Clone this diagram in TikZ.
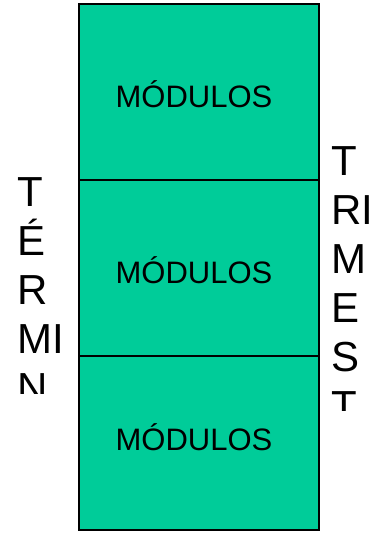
\documentclass[tikz,border=0pt]{standalone}
\usepackage{fontspec}
\setmainfont{Liberation Sans}
\usepackage{tikz}
\definecolor{modgreen}{RGB}{0,204,153}
\tikzset{
  modtext/.style={font=\fontsize{31}{36}\selectfont, inner sep=0pt, anchor=base},
  sidetext/.style={font=\fontsize{42}{49}\selectfont, align=left, inner sep=0pt, anchor=north west},
}

\begin{document}
\begin{tikzpicture}[x=1pt,y=-1pt]
\useasboundingbox (0,0) rectangle (372,533);
% the three module boxes
\fill[modgreen] (79,4) rectangle (319,530);
\draw[line width=1.2pt] (79,180) -- (319,180);
\draw[line width=1.2pt] (79,356) -- (319,356);
\draw[line width=2pt] (79,4) rectangle (319,530);
\node[modtext] (mod1) at (194,107) {MÓDULOS};
\node[modtext] (mod2) at (194,283) {MÓDULOS};
\node[modtext] (mod3) at (194,450) {MÓDULOS};
% side words, cut off
\begin{scope}
\clip (0,0) rectangle (78,393);
\node[sidetext] (termino) at (17,177) {T\\É\\R\\MI\\N};
\end{scope}
\begin{scope}
\clip (320,0) rectangle (372,410);
\node[sidetext] (trimest) at (331,146) {T\\RI\\M\\E\\S\\T};
\end{scope}
\end{tikzpicture}
\end{document}
